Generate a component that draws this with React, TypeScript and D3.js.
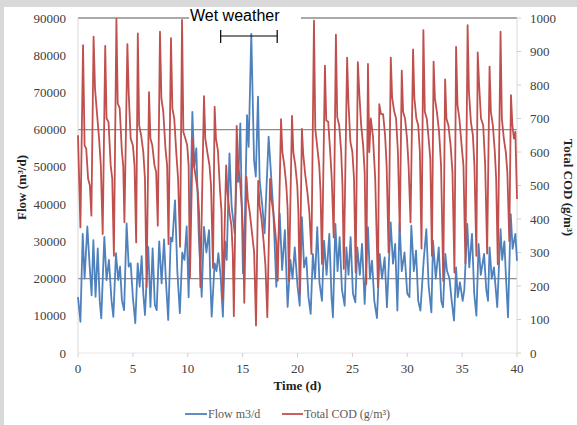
import * as d3 from 'd3'

// time (d), flow (m3/d)
const flowData: [number, number][] = [
  [0, 15000], [0.22, 8400], [0.43, 32000], [0.6, 20000], [0.85, 34000], [1.07, 23000],
  [1.24, 15500], [1.4, 30300], [1.6, 15100], [1.8, 28100], [1.98, 14000],
  [2.12, 9300], [2.4, 31200], [2.6, 19600], [2.82, 25000], [3.05, 14200],
  [3.22, 9700], [3.46, 26800], [3.66, 19600], [3.83, 23200], [4.0, 14200],
  [4.2, 11500], [4.43, 34800], [4.62, 23200], [4.8, 24100], [5.0, 15000],
  [5.22, 8000], [5.44, 24100], [5.62, 17800], [5.8, 26000], [5.95, 16000],
  [6.1, 10200], [6.4, 28500], [6.6, 12400], [6.8, 28100], [7.0, 13000],
  [7.17, 11500], [7.4, 30000], [7.62, 18700], [7.84, 30500], [8.0, 20000],
  [8.22, 8900], [8.45, 31000], [8.6, 30000], [8.84, 41000], [9.05, 22000],
  [9.28, 10700], [9.5, 27000], [9.7, 25000], [9.9, 34000], [10.08, 15000],
  [10.42, 64800], [10.6, 50000], [10.78, 55000], [11.0, 32000],
  [11.27, 15100], [11.48, 33900], [11.7, 27000], [11.94, 33000], [12.05, 20000],
  [12.18, 9750], [12.45, 24100], [12.62, 22000], [12.79, 26800], [13.0, 20500],
  [13.2, 9750], [13.4, 30000], [13.55, 25000], [13.8, 53650], [14.0, 39300],
  [14.28, 32150], [14.5, 51850], [14.6, 46000], [14.79, 61700], [15.03, 21400],
  [15.2, 35000], [15.4, 63900], [15.55, 55400], [15.79, 85700], [16.04, 51850],
  [16.2, 47400], [16.4, 68900], [16.55, 46500], [16.8, 39300], [17.0, 32150],
  [17.37, 58100], [17.62, 46500], [17.8, 38000], [18.07, 17800],
  [18.38, 37500], [18.6, 22300], [18.85, 33000], [19.1, 12400],
  [19.35, 25000], [19.55, 20000], [19.75, 28400], [20.0, 18000],
  [20.2, 12700], [20.4, 36500], [20.6, 23000], [20.8, 25700], [21.0, 15000],
  [21.2, 10500], [21.4, 26600], [21.6, 20000], [21.8, 33800], [22.0, 19000],
  [22.23, 14000], [22.42, 30200], [22.65, 21000], [22.9, 32000], [23.1, 15000],
  [23.23, 9600], [23.45, 34700], [23.65, 22000], [23.84, 31100], [24.05, 17000],
  [24.3, 12700], [24.45, 28400], [24.65, 21000], [24.84, 31100], [25.05, 16000],
  [25.27, 13600], [25.45, 28400], [25.68, 21000], [25.88, 29300], [26.12, 13200],
  [26.42, 33800], [26.6, 20000], [26.79, 24800], [27.0, 14000],
  [27.24, 9400], [27.49, 26600], [27.7, 20000], [27.94, 25700], [28.15, 12300],
  [28.49, 35100], [28.7, 24000], [28.9, 29300], [29.1, 11400],
  [29.3, 35000], [29.5, 22000], [29.75, 27000], [30.0, 16000],
  [30.2, 15000], [30.37, 34200], [30.6, 22000], [30.8, 27500], [31.0, 14000],
  [31.2, 11400], [31.5, 25000], [31.74, 33300], [31.95, 18000],
  [32.2, 10900], [32.35, 30200], [32.6, 20000], [32.87, 28400], [33.1, 14000],
  [33.26, 12300], [33.47, 26600], [33.62, 22100], [33.85, 20000], [34.05, 14000],
  [34.26, 8700], [34.45, 23000], [34.6, 15000], [34.8, 19000], [35.05, 14000],
  [35.2, 17000], [35.47, 34700], [35.65, 23000], [35.9, 32000], [36.1, 16000],
  [36.3, 10000], [36.5, 29300], [36.7, 21000], [37.0, 26600], [37.2, 17000],
  [37.36, 14000], [37.5, 28400], [37.7, 20000], [37.9, 23000], [38.2, 12300],
  [38.5, 33300], [38.65, 25000], [38.85, 30000], [39.0, 20000],
  [39.18, 9600], [39.43, 37300], [39.6, 28000], [39.85, 32000], [40.0, 24800],
]

// time (d), total COD (g/m3)
const codData: [number, number][] = [
  [0, 650], [0.22, 375], [0.46, 919], [0.6, 620], [0.75, 610], [0.92, 520], [1.08, 500],
  [1.22, 410], [1.42, 944], [1.55, 790], [1.72, 720], [1.92, 640], [2.08, 560],
  [2.25, 355], [2.48, 917], [2.6, 700], [2.78, 690], [2.98, 560], [3.12, 520],
  [3.27, 290], [3.5, 997], [3.62, 745], [3.8, 730], [4.0, 600], [4.12, 560],
  [4.23, 390], [4.5, 922], [4.62, 775], [4.8, 640], [5.0, 620], [5.15, 560],
  [5.3, 330], [5.45, 954], [5.57, 680], [5.75, 650], [5.95, 600], [6.1, 520],
  [6.25, 197], [6.47, 779], [6.6, 640], [6.77, 620], [6.97, 560], [7.12, 540],
  [7.27, 380], [7.47, 959], [7.6, 760], [7.77, 720], [7.97, 610], [8.12, 560],
  [8.25, 325], [8.47, 940], [8.6, 730], [8.77, 700], [8.97, 590], [9.12, 520],
  [9.3, 317], [9.48, 994], [9.6, 660], [9.78, 640], [9.95, 620], [10.08, 560],
  [10.2, 224], [10.45, 640], [10.57, 560], [10.75, 520], [10.92, 480], [11.03, 420],
  [11.15, 197], [11.48, 767], [11.6, 640], [11.78, 600], [11.98, 560], [12.12, 500],
  [12.3, 254], [12.45, 735], [12.57, 640], [12.75, 604], [12.95, 480], [13.08, 420],
  [13.2, 160], [13.5, 560], [13.62, 480], [13.8, 420], [13.98, 380], [14.1, 300],
  [14.2, 110], [14.46, 678], [14.58, 560], [14.75, 520], [14.92, 440], [15.05, 350],
  [15.15, 150], [15.35, 526], [15.47, 460], [15.65, 420], [15.85, 360], [16.05, 300],
  [16.22, 82], [16.42, 514], [16.55, 440], [16.72, 400], [16.92, 330], [17.08, 260],
  [17.25, 107], [17.5, 520], [17.62, 460], [17.8, 420], [17.98, 360], [18.08, 320],
  [18.2, 216], [18.5, 698], [18.62, 600], [18.8, 560], [18.98, 500], [19.1, 430],
  [19.22, 215], [19.5, 708], [19.62, 600], [19.8, 560], [19.98, 500], [20.08, 420],
  [20.2, 176], [20.4, 669], [20.52, 594], [20.7, 534], [20.9, 480], [21.08, 420],
  [21.27, 296], [21.5, 992], [21.62, 669], [21.8, 615], [21.98, 560], [22.1, 480],
  [22.23, 266], [22.5, 858], [22.62, 694], [22.8, 690], [22.98, 600], [23.12, 520],
  [23.3, 345], [23.5, 950], [23.62, 704], [23.8, 680], [23.98, 600], [24.1, 500],
  [24.22, 251], [24.52, 882], [24.64, 749], [24.82, 630], [25.0, 600], [25.15, 520],
  [25.3, 241], [25.5, 868], [25.62, 783], [25.8, 680], [25.98, 620], [26.12, 540],
  [26.27, 206], [26.42, 863], [26.54, 600], [26.68, 700], [26.88, 645], [27.08, 520],
  [27.33, 196], [27.45, 743], [27.6, 713], [27.8, 713], [27.98, 650], [28.12, 560],
  [28.3, 300], [28.5, 882], [28.62, 764], [28.8, 723], [28.98, 700], [29.15, 600],
  [29.32, 362], [29.5, 843], [29.62, 720], [29.8, 700], [29.98, 640], [30.12, 560],
  [30.3, 390], [30.53, 906], [30.65, 760], [30.83, 700], [31.0, 680], [31.15, 600],
  [31.3, 312], [31.47, 964], [31.6, 720], [31.78, 700], [31.95, 640], [32.1, 580],
  [32.25, 290], [32.4, 870], [32.52, 760], [32.7, 720], [32.9, 660], [33.08, 560],
  [33.28, 215], [33.45, 817], [33.57, 700], [33.75, 680], [33.95, 620], [34.12, 540],
  [34.3, 240], [34.45, 914], [34.58, 740], [34.75, 700], [34.95, 620], [35.12, 560],
  [35.3, 267], [35.5, 979], [35.62, 780], [35.8, 690], [35.98, 650], [36.12, 560],
  [36.3, 290], [36.42, 897], [36.55, 800], [36.72, 700], [36.92, 680], [37.1, 560],
  [37.28, 297], [37.5, 855], [37.62, 720], [37.8, 680], [37.98, 600], [38.1, 520],
  [38.25, 265], [38.5, 959], [38.62, 700], [38.8, 640], [38.98, 600], [39.12, 540],
  [39.3, 334], [39.45, 770], [39.58, 680], [39.72, 640], [39.85, 660], [40, 460],
]

const timeTicks = [0, 5, 10, 15, 20, 25, 30, 35, 40]
const flowTicks = [0, 10000, 20000, 30000, 40000, 50000, 60000, 70000, 80000, 90000]
const codTicks = [0, 100, 200, 300, 400, 500, 600, 700, 800, 900, 1000]
const flowGrid = [20000, 60000, 90000]
const wetWeather = [13, 18.15]

const W = 577
const H = 425
const left = 78
const right = 517
const top = 18
const bottom = 353

const serif = '"Liberation Serif", "Times New Roman", serif'
const blue = '#4F81BD'
const red = '#C0504D'

export default function App() {
  const x = d3.scaleLinear().domain([0, 40]).range([left, right])
  const yFlow = d3.scaleLinear().domain([0, 90000]).range([bottom, top])
  const yCod = d3.scaleLinear().domain([0, 1000]).range([bottom, top])

  const flowLine = d3.line<[number, number]>().x(d => x(d[0])).y(d => yFlow(d[1]))
  const codLine = d3.line<[number, number]>().x(d => x(d[0])).y(d => yCod(d[1]))

  const midY = (top + bottom) / 2 + 2

  return (
    <svg width={W} height={H} style={{ position: 'absolute', left: 0, top: 0, display: 'block' }}>
      <rect width={W} height={H} fill="#d9d9d9" />
      <rect x={4} y={7} width={W - 4} height={H - 7} fill="#fff" />

      {/* grid */}
      {flowGrid.map(v => (
        <line key={v} x1={left} x2={right} y1={yFlow(v)} y2={yFlow(v)} stroke="#8c8c8c" strokeWidth={1.3} />
      ))}
      <line x1={left} x2={left} y1={top} y2={bottom} stroke="#d9d9d9" />
      <line x1={right} x2={right} y1={top} y2={bottom} stroke="#d9d9d9" />
      <line x1={left} x2={right} y1={bottom} y2={bottom} stroke="#e6e6e6" />
      {timeTicks.map(t => (
        <line key={t} x1={x(t)} x2={x(t)} y1={bottom} y2={bottom + 4} stroke="#d0d0d0" />
      ))}
      {codTicks.map(v => (
        <line key={v} x1={right} x2={right + 4} y1={yCod(v)} y2={yCod(v)} stroke="#d0d0d0" />
      ))}

      {/* series */}
      <path d={flowLine(flowData) ?? ''} fill="none" stroke={blue} strokeWidth={1.8} strokeLinejoin="round" />
      <path d={codLine(codData) ?? ''} fill="none" stroke={red} strokeWidth={1.8} strokeLinejoin="round" />

      {/* axes labels */}
      <g fontFamily={serif} fontSize={13} fill="#404040">
        {flowTicks.map(v => (
          <text key={v} x={66} y={yFlow(v) + 4.5} textAnchor="end">{v}</text>
        ))}
        {codTicks.map(v => (
          <text key={v} x={530} y={yCod(v) + 4.5}>{v}</text>
        ))}
        {timeTicks.map(t => (
          <text key={t} x={x(t)} y={373} textAnchor="middle">{t}</text>
        ))}
      </g>
      <g fontFamily={serif} fontSize={13} fontWeight="bold" fill="#222">
        <text x={x(20)} y={390} textAnchor="middle">Time (d)</text>
        <text transform={`translate(26,${midY}) rotate(-90)`} textAnchor="middle">Flow (m³/d)</text>
        <text transform={`translate(564,${midY}) rotate(90)`} textAnchor="middle">Total COD (g/m³)</text>
      </g>

      {/* wet weather annotation */}
      <rect x={189} y={7} width={112} height={16} fill="#fff" />
      <text x={190} y={21} fontFamily='"Liberation Sans", Arial, sans-serif' fontSize={16} fill="#000">Wet weather</text>
      <g stroke="#000" strokeWidth={1.2}>
        <line x1={x(wetWeather[0])} x2={x(wetWeather[1])} y1={36} y2={36} />
        <line x1={x(wetWeather[0])} x2={x(wetWeather[0])} y1={30} y2={43} />
        <line x1={x(wetWeather[1])} x2={x(wetWeather[1])} y1={30} y2={43} />
      </g>

      {/* legend */}
      <g fontFamily={serif} fontSize={12} fill="#595959">
        <line x1={185} x2={207} y1={414} y2={414} stroke={blue} strokeWidth={1.8} />
        <text x={208} y={418}>Flow m3/d</text>
        <line x1={282} x2={303} y1={414} y2={414} stroke={red} strokeWidth={1.8} />
        <text x={304} y={418}>Total COD (g/m³)</text>
      </g>
    </svg>
  )
}
